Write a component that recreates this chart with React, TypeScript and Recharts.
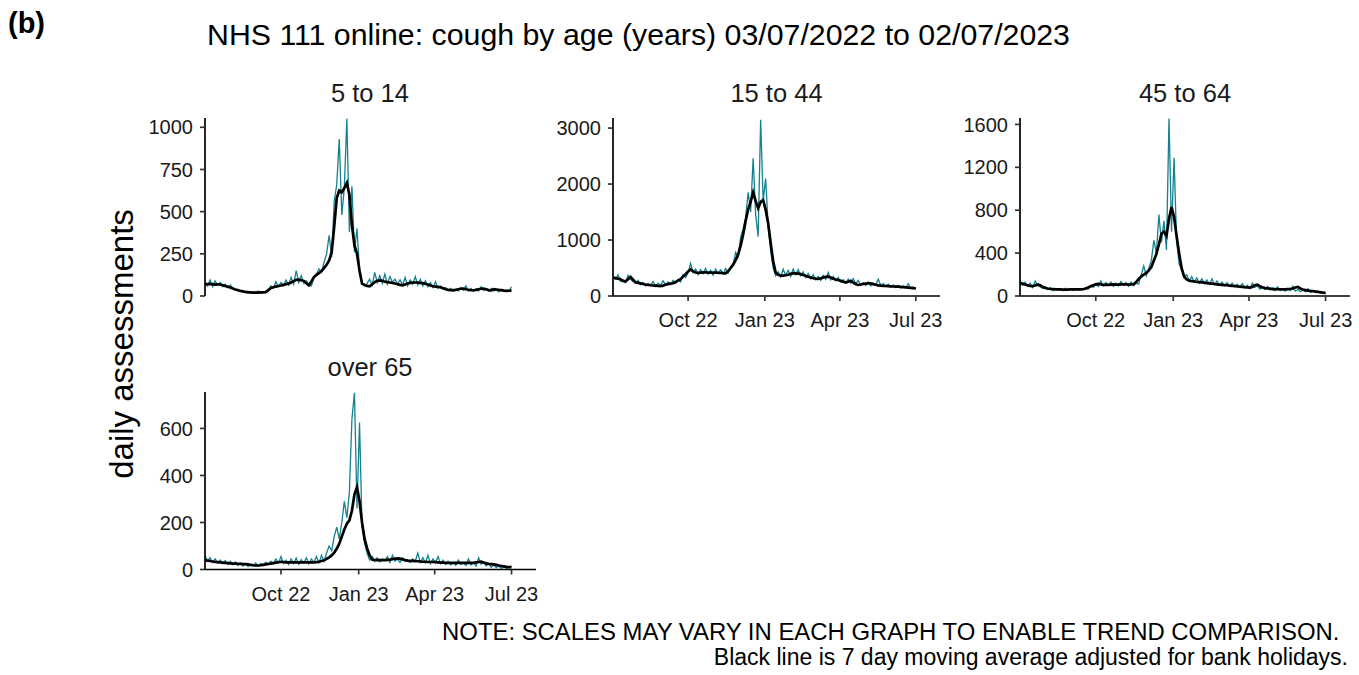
import React from "react";
import { LineChart, Line, XAxis, YAxis } from "recharts";

// days since 03/07/2022, every third day
const days = [
  0, 3, 6, 9, 12, 15, 18, 21, 24, 27, 30, 33, 36, 39, 42, 45, 48, 51, 54, 57, 60, 63, 66, 69, 72, 75, 78, 81, 84, 87,
  90, 93, 96, 99, 102, 105, 108, 111, 114, 117, 120, 123, 126, 129, 132, 135, 138, 141, 144, 147, 150, 153, 156, 159,
  162, 165, 168, 171, 174, 177, 180, 183, 186, 189, 192, 195, 198, 201, 204, 207, 210, 213, 216, 219, 222, 225, 228,
  231, 234, 237, 240, 243, 246, 249, 252, 255, 258, 261, 264, 267, 270, 273, 276, 279, 282, 285, 288, 291, 294, 297,
  300, 303, 306, 309, 312, 315, 318, 321, 324, 327, 330, 333, 336, 339, 342, 345, 348, 351, 354, 357, 360, 363,
];

const monthTicks = [90, 182, 272, 363];
const monthLabels = ["Oct 22", "Jan 23", "Apr 23", "Jul 23"];

const ageGroups = ["5 to 14", "15 to 44", "45 to 64", "over 65"];

const daily5to14 = [
  85, 60, 95, 55, 90, 65, 80, 55, 70, 50, 65,
  45, 35, 40, 28, 30, 22, 28, 18, 25, 20, 30, 18, 26, 22, 32,
  60, 45, 85, 55, 80, 60, 95, 65, 110, 70, 150, 80, 120, 75, 90,
  70, 60, 110, 130, 160, 140, 200, 250, 360, 230,
  560, 660, 930, 480, 640, 1050, 380, 650, 260, 400, 150, 80,
  60, 75, 100, 65, 140, 80, 120, 75, 130, 70, 115, 80, 100, 70, 95, 65, 110, 60,
  95, 70, 115, 65, 100, 60, 90, 55, 80, 50, 85, 45, 60, 40, 50,
  35, 45, 28, 40, 30, 50, 35, 60, 30, 45, 28, 42, 30, 55, 32, 40, 28, 45, 30, 38, 25, 40, 30, 35, 28, 55,
];
const avg5to14 = [
  68, 70, 72, 70, 68, 69, 68, 64, 60, 55, 50,
  44, 38, 34, 30, 27, 24, 22, 21, 20, 20, 20, 21, 22, 23, 35,
  48, 52, 56, 59, 62, 66, 70, 73, 80, 88, 96, 97, 93, 89, 75,
  63, 85, 112, 125, 135, 148, 165, 185, 210, 260,
  410, 580, 625, 615, 640, 671, 600, 420, 300, 251, 150, 73,
  65, 60, 58, 70, 82, 90, 93, 90, 85, 82, 80, 77, 74, 70, 66, 63, 68, 74,
  78, 79, 80, 80, 78, 76, 73, 68, 62, 58, 56, 54, 52, 46, 40,
  36, 34, 35, 36, 40, 43, 44, 40, 37, 35, 34, 36, 40, 43, 44, 40, 35, 34, 40, 38, 36, 35, 32, 30, 31, 33,
];

const daily15to44 = [
  350, 300, 380, 260, 290, 240, 370, 300, 260, 230, 280,
  200, 240, 180, 220, 190, 260, 170, 230, 190, 270, 200, 250, 210, 280, 230,
  300, 250, 380, 330, 420, 580, 420, 480, 380, 470, 400, 490, 390, 460, 370,
  480, 400, 470, 390, 490, 410, 520, 560, 780, 700,
  1050, 1200, 1400, 1850, 1500, 2460, 1450, 1060, 3150, 1700, 2100, 1250,
  800, 500, 360, 430, 340, 480, 370, 460, 350, 480, 380, 470, 360, 430, 330, 400, 310, 380,
  290, 350, 280, 370, 300, 420, 290, 350, 270, 330, 250, 290, 240, 300, 230,
  310, 220, 280, 200, 240, 190, 250, 180, 230, 200, 300, 190, 220, 170, 210, 160, 200, 150, 190, 140, 180, 150, 220, 140, 160, 130,
];
const avg15to44 = [
  330, 320, 310, 300, 270, 258, 300, 340, 290, 245, 235,
  225, 215, 205, 198, 192, 188, 185, 180, 178, 185, 200, 212, 222, 228, 250,
  275, 300, 350, 390, 440, 475, 440, 420, 415, 418, 422, 423, 420, 418, 417,
  416, 415, 412, 408, 405, 440, 500, 560, 640, 740,
  900, 1100, 1340, 1550, 1680, 1850, 1700, 1570, 1680, 1715, 1540, 1300,
  950, 620, 420, 380, 365, 365, 370, 380, 395, 405, 405, 400, 390, 375, 362, 345, 330, 318,
  310, 304, 315, 330, 342, 346, 330, 310, 295, 286, 270, 255, 240, 255, 272,
  240, 210, 197, 205, 215, 222, 227, 225, 212, 200, 190, 183, 180, 179, 176, 172, 170, 168, 167, 163, 160, 155, 150, 145, 140, 137,
];

const daily45to64 = [
  140, 100, 130, 90, 120, 80, 140, 95, 85, 70, 90,
  60, 75, 50, 70, 55, 65, 50, 72, 58, 66, 52, 70, 55, 68, 60,
  75, 65, 95, 80, 110, 90, 140, 95, 125, 100, 130, 90, 120, 95, 135,
  100, 125, 90, 130, 95, 120, 110, 200, 280, 190,
  260, 330, 520, 400, 760, 500, 700, 430, 1655, 600, 1290, 520,
  300, 240, 180, 200, 140, 180, 130, 170, 120, 160, 115, 150, 110, 160, 105, 140, 100, 130,
  95, 125, 90, 120, 85, 110, 80, 115, 75, 100, 70, 120, 80, 95, 65,
  80, 60, 90, 55, 75, 50, 85, 55, 70, 45, 65, 50, 90, 45, 60, 40, 55, 40, 70, 35, 50, 30, 45, 25, 35, 20,
];
const avg45to64 = [
  118, 115, 108, 100, 95, 93, 98, 108, 100, 85, 75,
  70, 66, 64, 62, 62, 61, 60, 60, 60, 61, 61, 62, 62, 62, 63,
  70, 80, 90, 100, 108, 112, 108, 104, 103, 104, 106, 108, 107, 106, 108,
  109, 108, 106, 107, 110, 130, 160, 182, 200, 215,
  238, 270, 330, 390, 480, 580, 600, 560, 720, 830, 740, 560,
  400, 260, 180, 155, 142, 138, 135, 132, 130, 127, 124, 120, 118, 115, 112, 109, 106, 104,
  102, 100, 97, 95, 93, 90, 88, 85, 82, 80, 78, 85, 100, 106, 90,
  80, 74, 71, 68, 65, 64, 63, 62, 62, 63, 64, 65, 70, 80, 85, 70, 60, 55, 50, 47, 45, 42, 38, 35, 32, 30,
];

const dailyOver65 = [
  60, 35, 50, 30, 45, 28, 40, 25, 38, 22, 35,
  20, 32, 18, 28, 15, 25, 12, 22, 15, 28, 14, 25, 20, 30, 22,
  35, 25, 45, 28, 55, 25, 40, 22, 45, 25, 48, 22, 42, 28, 50,
  24, 45, 30, 55, 28, 60, 35, 70, 100, 80,
  140, 180, 130, 200, 290, 220, 330, 640, 752, 260, 625, 180,
  110, 70, 40, 55, 35, 50, 32, 45, 38, 55, 30, 60, 35, 45, 30, 50, 35, 40,
  30, 45, 35, 70, 30, 50, 28, 60, 25, 45, 30, 55, 25, 40, 22,
  35, 20, 30, 18, 40, 22, 28, 18, 45, 20, 30, 15, 50, 22, 30, 15, 25, 10, 20, 8, 15, 5, 12, 5, 10, 15,
];
const avgOver65 = [
  40, 38, 36, 34, 32, 31, 30, 29, 28, 27, 26,
  25, 25, 24, 24, 23, 23, 22, 20, 18, 17, 17, 18, 20, 22, 24,
  25, 27, 29, 31, 33, 32, 30, 30, 30, 30, 30, 30, 30, 30, 30,
  30, 30, 30, 31, 33, 36, 39, 45, 52, 60,
  72, 88, 110, 140, 170, 195, 209, 250, 320, 350, 290, 200,
  130, 90, 60, 42, 40, 40, 40, 40, 40, 41, 42, 44, 46, 47, 46, 43, 40, 38,
  37, 37, 36, 35, 34, 33, 33, 32, 32, 32, 31, 30, 29, 29, 28,
  28, 28, 28, 28, 28, 28, 28, 28, 28, 28, 28, 30, 32, 33, 30, 26, 24, 23, 22, 20, 17, 15, 13, 11, 10, 10,
];

const yTicks5to14 = [0, 250, 500, 750, 1000];
const yTicks15to44 = [0, 1000, 2000, 3000];
const yTicks45to64 = [0, 400, 800, 1200, 1600];
const yTicksOver65 = [0, 200, 400, 600];

const FONT = "'Liberation Sans', Arial, sans-serif";
const TEAL = "#13818f";

const toRows = (daily: number[], avg: number[]) =>
  days.map((d, i) => ({ day: d, daily: daily[i], avg: avg[i] }));

type PanelProps = {
  rows: { day: number; daily: number; avg: number }[];
  left: number;
  top: number;
  w: number;
  h: number;
  yMax: number;
  yTicks: number[];
  showX: boolean;
};

function Panel({ rows, left, top, w, h, yMax, yTicks, showX }: PanelProps) {
  const padL = 70;
  const padR = 20;
  const padT = 10;
  const xH = 40;
  const padB = showX ? 4 : 16;
  const width = padL + w + padR;
  const height = padT + h + (showX ? xH : 0) + padB;
  const axisLine = { stroke: "#000", strokeWidth: 1.7 };
  const tickLine = { stroke: "#333", strokeWidth: 1.7 };
  const tick = { fill: "#1a1a1a", fontSize: 20, fontFamily: FONT };
  return (
    <div style={{ position: "absolute", left: left - padL, top: top - padT, width, height }}>
      <LineChart width={width} height={height} data={rows} margin={{ top: padT, right: padR, left: 0, bottom: padB }}>
        <XAxis
          dataKey="day"
          type="number"
          domain={[0, 392]}
          allowDataOverflow
          ticks={monthTicks}
          interval={0}
          tickFormatter={(v) => monthLabels[monthTicks.indexOf(v)]}
          hide={!showX}
          height={xH}
          axisLine={axisLine}
          tickLine={tickLine}
          tickSize={5}
          tickMargin={12}
          tick={tick}
        />
        <YAxis
          width={padL}
          domain={[0, yMax]}
          allowDataOverflow
          ticks={yTicks}
          interval={0}
          axisLine={axisLine}
          tickLine={tickLine}
          tickSize={5}
          tickMargin={7}
          tick={tick}
        />
        <Line dataKey="daily" stroke={TEAL} strokeWidth={1.3} dot={false} isAnimationActive={false} />
        <Line dataKey="avg" stroke="#000" strokeWidth={2.7} dot={false} isAnimationActive={false} />
      </LineChart>
    </div>
  );
}

export default function App() {
  const facetTitle = { fontSize: 25.5, fontFamily: FONT, fill: "#1a1a1a", textAnchor: "middle" as const };
  return (
    <div style={{ position: "absolute", left: 0, top: 0, width: 1359, height: 675, background: "#fff" }}>
      <svg width={1359} height={675} style={{ position: "absolute", left: 0, top: 0 }}>
        <text x={8} y={33} fontSize={29} fontWeight="bold" fontFamily={FONT} fill="#000">
          (b)
        </text>
        <text x={207} y={45} fontSize={30.3} fontFamily={FONT} fill="#000">
          NHS 111 online: cough by age (years) 03/07/2022 to 02/07/2023
        </text>
        <text x={370} y={101.5} {...facetTitle}>{ageGroups[0]}</text>
        <text x={776.5} y={101.5} {...facetTitle}>{ageGroups[1]}</text>
        <text x={1185} y={101.5} {...facetTitle}>{ageGroups[2]}</text>
        <text x={370} y={375.5} {...facetTitle}>{ageGroups[3]}</text>
        <text
          x={133}
          y={344}
          transform="rotate(-90 133 344)"
          fontSize={33}
          fontFamily={FONT}
          fill="#000"
          textAnchor="middle"
        >
          daily assessments
        </text>
        <text x={1339.5} y={640} fontSize={23.9} fontFamily={FONT} fill="#000" textAnchor="end">
          NOTE: SCALES MAY VARY IN EACH GRAPH TO ENABLE TREND COMPARISON.
        </text>
        <text x={1348} y={665} fontSize={23} fontFamily={FONT} fill="#000" textAnchor="end">
          Black line is 7 day moving average adjusted for bank holidays.
        </text>
      </svg>
      <Panel rows={toRows(daily5to14, avg5to14)} left={205} top={118} w={331} h={178} yMax={1055} yTicks={yTicks5to14} showX={false} />
      <Panel rows={toRows(daily15to44, avg15to44)} left={613} top={118} w={327} h={178} yMax={3180} yTicks={yTicks15to44} showX />
      <Panel rows={toRows(daily45to64, avg45to64)} left={1020} top={118} w={330} h={178} yMax={1660} yTicks={yTicks45to64} showX />
      <Panel rows={toRows(dailyOver65, avgOver65)} left={205} top={392} w={331} h={177.5} yMax={755} yTicks={yTicksOver65} showX />
    </div>
  );
}
